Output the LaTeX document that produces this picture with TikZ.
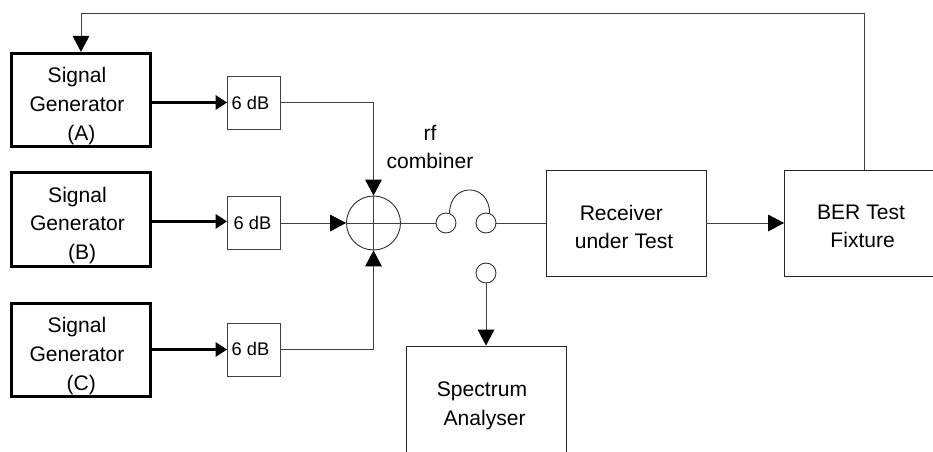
\documentclass[tikz,border=0pt]{standalone}
\usepackage{fontspec}
\setmainfont{Liberation Sans}
\usetikzlibrary{arrows.meta}
\tikzset{
  x=0.75pt,y=-0.75pt,
  labeltext/.style={align=center,font=\fontsize{15.8}{21.5}\selectfont,inner sep=0pt},
  genbox/.style={draw,line width=2.2pt,minimum width=104.5pt,minimum height=70pt,inner sep=0pt},
  padbox/.style={draw=black!75,line width=0.65pt,minimum width=39.75pt,minimum height=39.75pt,inner sep=0pt},
  padtext/.style={font=\fontsize{13.7}{16}\selectfont,inner sep=0pt},
  bigbox/.style={draw=black!85,line width=0.65pt,minimum width=120pt,minimum height=79.5pt,inner sep=0pt},
  openbox/.style={draw=black!85,line width=0.65pt,minimum width=120pt,minimum height=120pt,inner sep=0pt},
  port/.style={draw=black!85,circle,line width=0.65pt,minimum size=15pt,inner sep=0pt},
  wire/.style={line width=0.7pt,draw=black!75},
  heavywire/.style={line width=2pt,draw=black},
  bigtip/.style={-{Triangle[length=12pt,width=12.5pt,color=black,fill=black]}},
  padtip/.style={-{Triangle[length=8.5pt,width=10.5pt,color=black,fill=black]}},
}
\begin{document}
\begin{tikzpicture}
\useasboundingbox (0,0) rectangle (933,451);
\clip (0,0) rectangle (933,451);
\node[genbox] (ga) at (81,100) {};
\node[genbox] (gb) at (81,219.5) {};
\node[genbox] (gc) at (81,350) {};
\node[labeltext] (gal) at (77,106) {Signal\\Generator\\\hspace*{6.5pt}(A)};
\node[labeltext] (gbl) at (77.5,225.5) {Signal\\Generator\\\hspace*{7pt}(B)};
\node[labeltext] (gcl) at (77,356) {Signal\\Generator\\\hspace*{6.5pt}(C)};
\node[padbox] (pa) at (254,102.5) {};
\node[padbox] (pb) at (254,223) {};
\node[padbox] (pc) at (254,349.5) {};
\node[padtext] (pal) at (250.5,103) {6 dB};
\node[padtext] (pbl) at (252.5,223) {6 dB};
\node[padtext] (pcl) at (250.5,349) {6 dB};
\node[draw=black!85,circle,line width=0.65pt,minimum size=40.5pt,inner sep=0pt] (comb) at (373.5,223) {};
\node[port] (p1) at (446,223) {};
\node[port] (p2) at (486,223) {};
\node[port] (p3) at (486,273) {};
\node[bigbox] (rx) at (626,223) {};
\node[bigbox] (ber) at (864.5,223) {};
\node[labeltext] (rxl) at (624,227) {Receiver\hspace*{4pt}\\under Test};
\node[labeltext] (berl) at (861,226.5) {BER Test\\\hspace*{2.5pt}Fixture};
\node[openbox] (sa) at (486,426) {};
\node[labeltext] (lab) at (430,147) {rf\\combiner};
\node[labeltext] (salab) at (482,405.5) {Spectrum\\\hspace*{4pt}Analyser};
\draw[heavywire,padtip] ([xshift=-2pt]ga.east |- pa.west) -- (pa.west);
\draw[heavywire,padtip] ([yshift=1.2pt]gb.east |- pb.west) -- ([yshift=1.2pt]pb.west);
\draw[heavywire,padtip] (gc.east |- pc.west) -- (pc.west);
\draw[wire] (comb.west) -- (comb.east);
\draw[wire] (comb.north) -- (comb.south);
\draw[wire,bigtip] (pa.east) -| (comb.north);
\draw[wire,bigtip] (pb.east) -- (comb.west);
\draw[wire,bigtip] (pc.east) -| (comb.south);
\draw[wire] (comb.east) -- (p1.west);
\draw[line width=0.65pt,draw=black!85] (p1.70) .. controls +(0,-31) and +(0,-31) .. (p2.70);
\draw[wire] (p2.east) -- (rx.west);
\draw[wire,bigtip] (rx.east) -- (ber.west);
\draw[wire,bigtip] (p3.south) -- (sa.north);
\coordinate (top) at (ber.north |- 0,13);
\coordinate (topl) at (ga.north |- 0,13);
\draw[wire,bigtip] (ber.north) -- (top) -- (topl) -- (ga.north);
\end{tikzpicture}
\end{document}
